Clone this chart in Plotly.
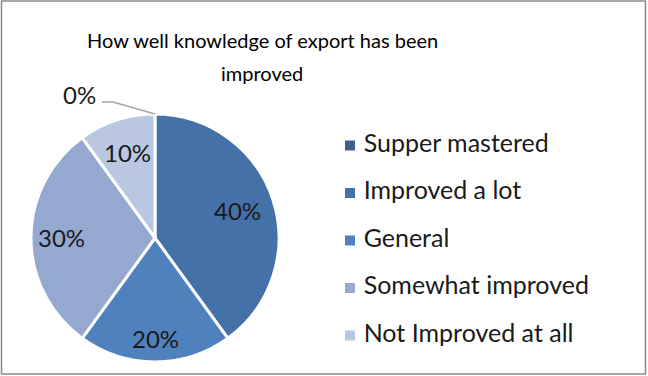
import math
import plotly.graph_objects as go

# Survey categories and their shares (percent)
categories = ["Supper mastered", "Improved a lot", "General",
              "Somewhat improved", "Not Improved at all"]
shares = [0, 40, 20, 30, 10]
slice_colors = ["#3d5f8c", "#4472a8", "#4f81bd", "#95a9d0", "#b9c7e2"]
title_lines = ["How well knowledge of export has been", "improved"]

W, H = 648, 376
FONT = "Lato"
LABEL_SIZE = 24

# pie placement (paper fractions)
pie_x = [31 / W, 279 / W]
pie_y = [14 / H, 262 / H]
# radial placement of each in-slice label, as a fraction of the radius
label_radius_frac = [0.0, 0.70, 0.82, 0.75, 0.72]

fig = go.Figure()

fig.add_trace(go.Pie(
    labels=categories,
    values=shares,
    sort=False,
    direction="clockwise",
    rotation=0,
    marker=dict(colors=slice_colors, line=dict(color="white", width=3)),
    textinfo="none",
    domain=dict(x=pie_x, y=pie_y),
    showlegend=False,
    hoverinfo="label+percent",
))

# pie geometry in pixels
cx = (pie_x[0] + pie_x[1]) / 2 * W
cy = H - (pie_y[0] + pie_y[1]) / 2 * H
r = (pie_x[1] - pie_x[0]) * W / 2
total = sum(shares)

start = 0.0
for v, frac in zip(shares, label_radius_frac):
    sweep = 360.0 * v / total
    if v > 0:
        mid = math.radians(start + sweep / 2)
        lx = cx + frac * r * math.sin(mid)
        ly = cy - frac * r * math.cos(mid) - 1
        fig.add_annotation(x=lx / W, y=1 - ly / H, xref="paper", yref="paper",
                           text=f"{v}%", showarrow=False,
                           xanchor="center", yanchor="middle",
                           font=dict(family=FONT, size=LABEL_SIZE, color="#1a1a1a"))
    else:
        # zero share: label outside with a leader line from the slice position
        ang = math.radians(start)
        px = cx + r * math.sin(ang)
        py = cy - r * math.cos(ang)
        elbow_x, elbow_y = px - 42, py - 12
        end_x = elbow_x - 11
        fig.add_shape(type="path",
                      path=f"M {px/W},{1-py/H} L {elbow_x/W},{1-elbow_y/H} L {end_x/W},{1-elbow_y/H}",
                      xref="paper", yref="paper",
                      line=dict(color="#a6a6a6", width=1.5))
        fig.add_annotation(x=(end_x - 4) / W, y=1 - (elbow_y - 8) / H,
                           xref="paper", yref="paper",
                           text=f"{v}%", showarrow=False,
                           xanchor="right", yanchor="middle",
                           font=dict(family=FONT, size=LABEL_SIZE, color="#1a1a1a"))
    start += sweep

# Legend built as a marker+text column on a hidden axis
legend_y = list(range(len(categories)))[::-1]
fig.add_trace(go.Scatter(
    x=[0] * len(categories),
    y=legend_y,
    mode="markers+text",
    marker=dict(symbol="square", size=10, color=slice_colors),
    text=[" " + c for c in categories],
    textposition="middle right",
    textfont=dict(family=FONT, size=25, color="#1a1a1a"),
    xaxis="x", yaxis="y",
    showlegend=False,
    hoverinfo="skip",
    cliponaxis=False,
))

# two-line chart title
title_y = [40, 73]
for line, ty in zip(title_lines, title_y):
    fig.add_annotation(x=262 / W, y=1 - ty / H, xref="paper", yref="paper",
                       text=line, showarrow=False,
                       xanchor="center", yanchor="middle",
                       font=dict(family=FONT, size=20, color="#000000"))

# chart frame
fig.add_shape(type="rect", xref="paper", yref="paper",
              x0=1.5 / W, x1=1 - 2.5 / W, y0=2 / H, y1=1 - 1 / H,
              line=dict(color="#8a8a8a", width=1.5))

fig.update_layout(
    width=W, height=H,
    margin=dict(l=0, r=0, t=0, b=0),
    paper_bgcolor="white",
    plot_bgcolor="white",
    xaxis=dict(domain=[350 / W, 1], range=[0, 1], visible=False, fixedrange=True),
    yaxis=dict(domain=[(H - 335.5) / H, (H - 145.5) / H],
               range=[0.0, 4.0], visible=False, fixedrange=True),
)

fig.write_html("out.html")
